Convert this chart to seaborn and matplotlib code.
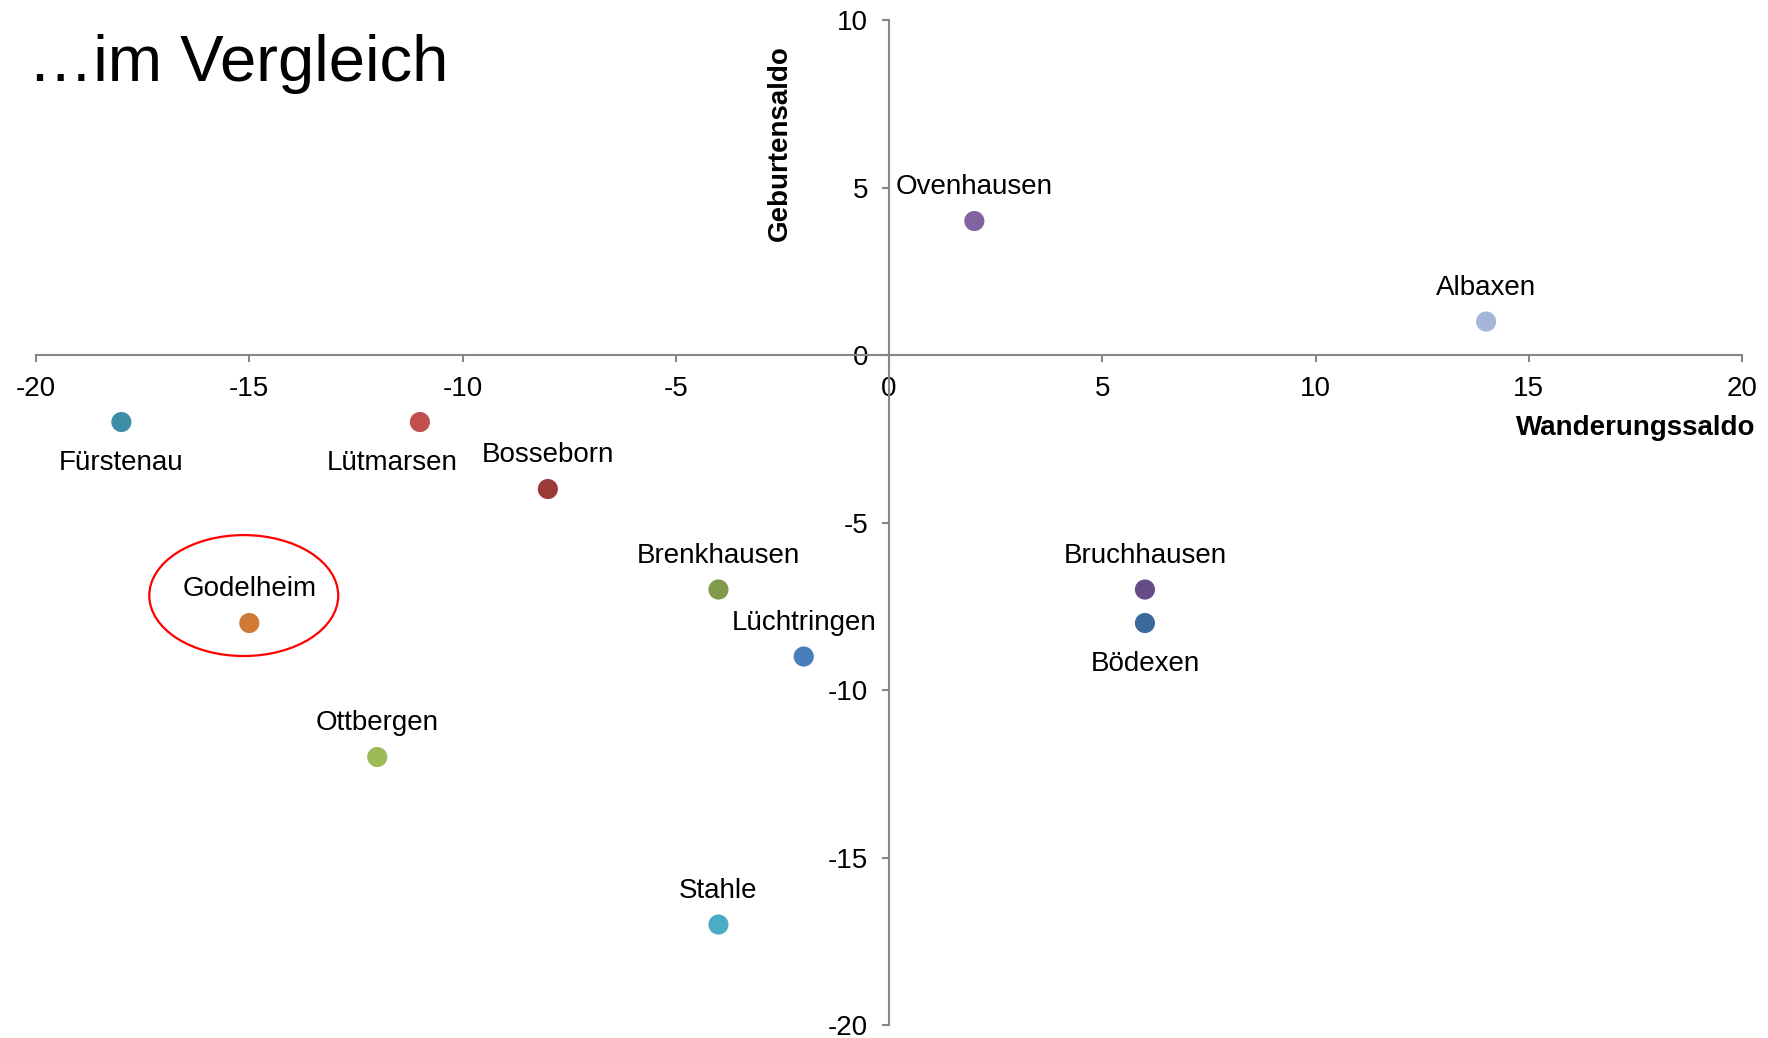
import numpy as np
import pandas as pd
import matplotlib
matplotlib.use("Agg")
import matplotlib.pyplot as plt
from matplotlib.patches import Ellipse
import seaborn as sns

# data
orte = ["Fürstenau", "Lütmarsen", "Bosseborn", "Godelheim", "Brenkhausen",
        "Lüchtringen", "Ottbergen", "Stahle", "Ovenhausen", "Albaxen",
        "Bruchhausen", "Bödexen"]
wanderung = [-18, -11, -8, -15, -4, -2, -12, -4, 2, 14, 6, 6]
geburten = [-2, -2, -4, -8, -7, -9, -12, -17, 4, 1, -7, -8]
farben = ["#3B8EA5", "#C0504D", "#9B3B39", "#D07B35", "#7F9A48",
          "#4A7EBB", "#9BBB59", "#4BACC6", "#8064A2", "#A5B6D8",
          "#654C87", "#3C6A9C"]
# label placement: "o" = above, "u" = below
lage = ["u", "u", "o", "o", "o", "o", "o", "o", "o", "o", "o", "u"]

df = pd.DataFrame({"ort": orte, "x": wanderung, "y": geburten})

sns.set_style("white")
plt.rcParams["font.family"] = ["Liberation Sans", "DejaVu Sans"]
plt.rcParams["axes.unicode_minus"] = False

fig = plt.figure(figsize=(17.68, 10.38), dpi=100)
ax = fig.add_axes([0.0204, 0.0125, 0.9649, 0.9682])

sns.scatterplot(data=df, x="x", y="y", hue="ort",
                palette=dict(zip(orte, farben)), s=210, linewidth=0,
                legend=False, ax=ax, zorder=3)

for i, row in df.iterrows():
    dx = -28 if row["ort"] == "Lütmarsen" else 0
    dy = 34 if lage[i] == "o" else -41
    ax.annotate(row["ort"], (row["x"], row["y"]), xytext=(dx * 0.72, dy * 0.72),
                textcoords="offset points", ha="center", va="center",
                fontsize=20, color="black")

# highlight Godelheim
ax.add_patch(Ellipse((-15.13, -7.18), 4.43, 3.61, fill=False,
                     edgecolor="#FF0000", linewidth=1.6, zorder=4))

ax.set_xlim(-20, 20)
ax.set_ylim(-20, 10)
ax.set_xticks(range(-20, 21, 5))
ax.set_yticks(range(-20, 11, 5))

achse = "#868686"
for s in ["top", "right"]:
    ax.spines[s].set_visible(False)
ax.spines["left"].set_position(("data", 0))
ax.spines["bottom"].set_position(("data", 0))
for s in ["left", "bottom"]:
    ax.spines[s].set_color(achse)
    ax.spines[s].set_linewidth(1.5)
ax.tick_params(axis="both", direction="out", length=5, width=1.5,
               color=achse, labelsize=20, labelcolor="black", pad=10)
ax.tick_params(axis="x", bottom=True)
ax.tick_params(axis="y", left=True)

ax.set_xlabel("Wanderungssaldo", fontsize=20, fontweight="bold",
              ha="right", va="center", color="black")
ax.xaxis.set_label_coords(1.008, 0.594)
ax.set_ylabel("Geburtensaldo", fontsize=20, fontweight="bold",
              va="center", ha="center", color="black")
ax.yaxis.set_label_coords(0.436, 0.878)

fig.text(0.016, 0.922, "…im Vergleich", fontsize=47, va="baseline",
         ha="left", color="black")

fig.savefig("out.png", dpi=100)
